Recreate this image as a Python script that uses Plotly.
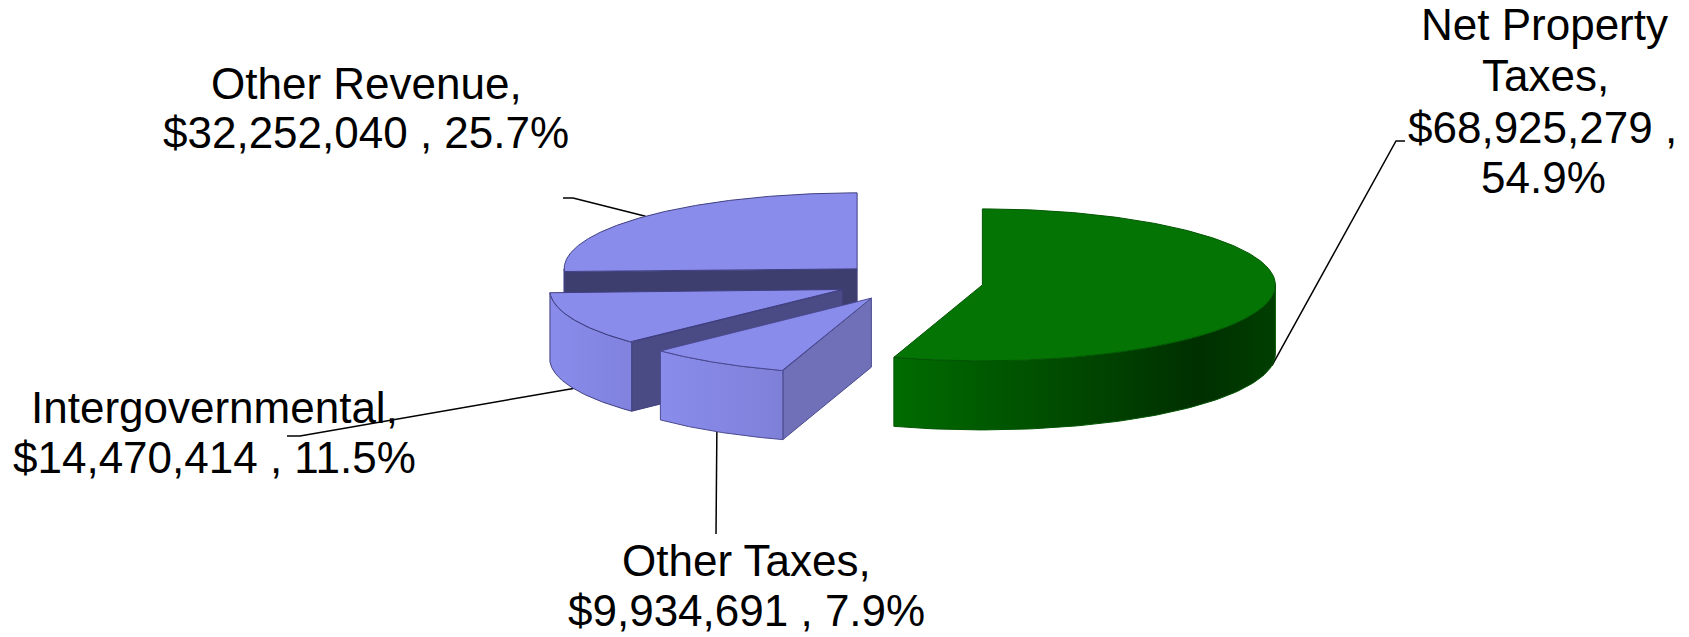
import numpy as np
import plotly.graph_objects as go

# Revenue sources, clockwise from twelve o'clock
categories = ["Net Property Taxes", "Other Taxes", "Intergovernmental", "Other Revenue"]
amounts = [68925279, 9934691, 14470414, 32252040]
percents = [54.9, 7.9, 11.5, 25.7]

# Label text, line by line, for each source
label_lines = [
    ["Net Property", "Taxes,", "${amt} ,", "{pct}%"],
    ["Other Taxes,", "${amt} , {pct}%"],
    ["Intergovernmental,", "${amt} , {pct}%"],
    ["Other Revenue,", "${amt} , {pct}%"],
]
# Line centre x and baseline y for every label line
label_pos = [
    [(1544, 39), (1545, 90), (1542, 142), (1543, 192)],
    [(746, 575), (746, 625)],
    [(214, 422), (214, 472)],
    [(366, 98), (366, 147)],
]
# Knee of each leader line, then its end next to the text
leader_knees = [
    [(1396, 141), (1405, 141)],
    [(716, 534)],
    [(300, 436), (287, 436)],
    [(573, 198), (563, 198)],
]

# Projection of the tilted pie
CX, CY = 910, 282
RX, RY = 293, 76
DEPTH = 69
EXPLODE = 0.25
FONT_PX = 44

STYLES = [
    dict(top="#047504", edge="#035503", radial="#003c00",
         side=[[0, "#006c00"], [0.45, "#004a00"], [0.8, "#002f00"], [1, "#003f00"]]),
    dict(top="#8a8cec", edge="#4a4a90", radial="#6f70b8",
         side=[[0, "#8a8cec"], [1, "#7e80d8"]]),
    dict(top="#8a8cec", edge="#3f3f80", radial="#4a4a84",
         side=[[0, "#8a8cec"], [1, "#8082de"]]),
    dict(top="#8a8cec", edge="#3f3f80", radial="#3e3e6e",
         side=[[0, "#8a8cec"], [1, "#8a8cec"]]),
]


def rim(theta_deg, cx, cy):
    t = np.radians(theta_deg)
    return cx + RX * np.sin(t), cy - RY * np.cos(t)


fig = go.Figure()


def polygon(xs, ys, line_color, fill=None, gradient=None):
    kw = dict(fillgradient=gradient) if gradient else dict(fillcolor=fill)
    fig.add_trace(go.Scatter(
        x=list(xs) + [xs[0]], y=list(ys) + [ys[0]], mode="lines", fill="toself",
        line=dict(color=line_color, width=1), hoverinfo="skip", **kw))


shares = np.array(amounts, dtype=float) / sum(amounts) * 360
ends = np.cumsum(shares)
starts = ends - shares
mids = (starts + ends) / 2
centres = [rim(m, CX, CY) for m in mids]
centres = [(CX + EXPLODE * (x - CX), CY + EXPLODE * (y - CY)) for x, y in centres]

# Leader lines sit beneath the slices
for i, knees in enumerate(leader_knees):
    ax, ay = rim(mids[i], *centres[i])
    if np.cos(np.radians(mids[i])) < 0:
        ay += DEPTH
    pts = [(ax, ay)] + knees
    fig.add_trace(go.Scatter(
        x=[p[0] for p in pts], y=[p[1] for p in pts], mode="lines",
        line=dict(color="#000000", width=1.5), hoverinfo="skip"))

# Painter's order: back slice first, the large front slice last
for i in [3, 2, 1, 0]:
    s, cx, cy = STYLES[i], *centres[i]
    a0, a1 = starts[i], ends[i]

    # Cut faces that turn towards the viewer
    for angle, normal in ((a0, a0 - 90), (a1, a1 + 90)):
        if np.cos(np.radians(normal)) < -1e-6:
            rx, ry = rim(angle, cx, cy)
            polygon([cx, rx, rx, cx], [cy, ry, ry + DEPTH, cy + DEPTH], s["edge"], fill=s["radial"])

    # Curved outer wall, front half only
    w0, w1 = max(a0, 90), min(a1, 270)
    if w1 > w0:
        th = np.linspace(w0, w1, 90)
        wx, wy = rim(th, cx, cy)
        polygon(np.r_[wx, wx[::-1]], np.r_[wy, wy[::-1] + DEPTH], s["edge"],
                gradient=dict(type="horizontal", colorscale=s["side"],
                              start=float(wx.min()), stop=float(wx.max())))

    # Top surface
    th = np.linspace(a0, a1, 200)
    tx, ty = rim(th, cx, cy)
    polygon(np.r_[cx, tx], np.r_[cy, ty], s["edge"], fill=s["top"])

# Category labels
for i, lines in enumerate(label_lines):
    for line, (lx, ly) in zip(lines, label_pos[i]):
        text = line.format(amt=f"{amounts[i]:,}", pct=f"{percents[i]}")
        fig.add_annotation(x=lx, y=ly - 0.34 * FONT_PX, text=text, showarrow=False,
                           xanchor="center", yanchor="middle",
                           font=dict(family="Liberation Sans, Arial, sans-serif",
                                     size=FONT_PX, color="#000000"))

fig.update_layout(
    width=1689, height=637, margin=dict(l=0, r=0, t=0, b=0),
    paper_bgcolor="#ffffff", plot_bgcolor="#ffffff", showlegend=False,
    xaxis=dict(range=[0, 1689], visible=False, fixedrange=True),
    yaxis=dict(range=[637, 0], visible=False, fixedrange=True),
)
fig.write_html("out.html", config=dict(displayModeBar=False))
